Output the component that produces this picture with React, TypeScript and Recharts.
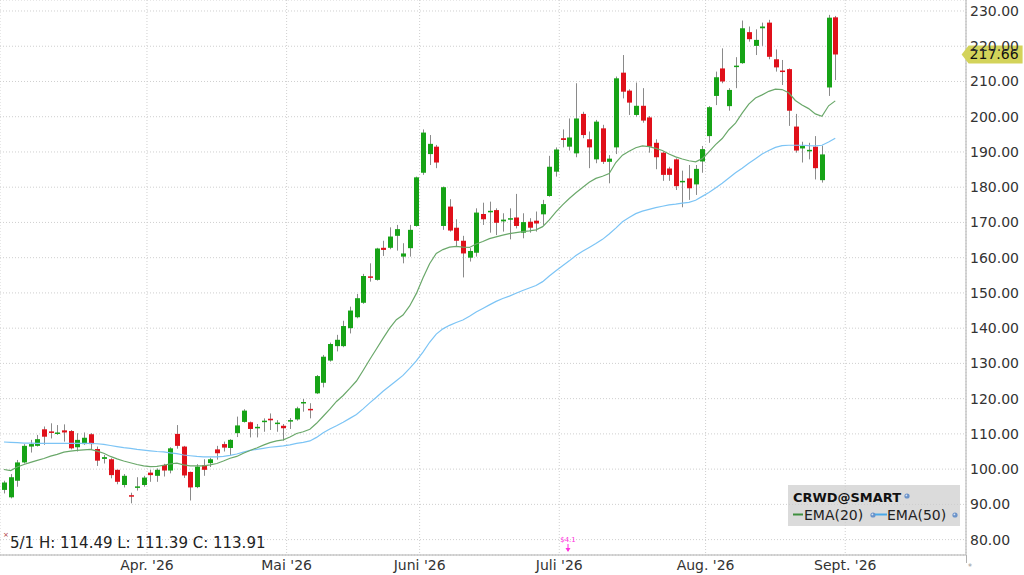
import React from 'react';
import { ComposedChart, Bar, Line, XAxis, YAxis, CartesianGrid, ReferenceDot } from 'recharts';

const opens = [94.1,92.0,96.7,101.9,106.4,106.6,111.3,110.7,110.1,111.0,110.8,106.2,107.1,109.9,105.7,102.9,102.8,99.8,95.5,92.6,94.7,95.5,99.0,98.1,101.2,99.6,110.0,106.4,99.2,94.9,101.1,101.7,105.6,107.1,106.0,110.2,113.4,113.3,111.6,113.4,114.3,112.8,112.3,113.5,114.1,118.7,117.1,121.5,124.5,130.8,134.9,134.9,140.0,143.1,147.2,154.7,153.7,162.8,162.8,166.2,160.3,162.7,169.0,184.1,189.4,191.5,169.0,174.5,168.5,164.8,160.0,161.4,172.4,173.0,173.5,170.3,170.9,171.4,167.1,170.2,170.5,172.3,177.5,184.4,193.9,191.5,189.6,200.8,193.6,187.9,196.7,187.2,191.3,212.5,207.4,200.5,203.1,199.8,192.6,189.8,185.3,187.9,181.4,182.5,180.8,187.3,194.5,205.9,213.7,203.0,214.2,215.2,224.0,220.1,225.1,226.7,216.3,213.1,213.5,197.2,191.0,190.3,191.5,182.0,208.3,228.2];
const highs = [96.7,98.6,102.6,107.1,108.3,109.7,112.1,113.0,112.5,112.7,111.1,110.2,110.4,110.2,106.4,104.0,103.1,99.9,98.6,93.3,97.7,98.1,99.8,100.2,101.5,106.2,112.5,106.6,99.3,101.4,102.8,103.2,106.6,107.8,108.5,114.9,117.0,113.5,112.8,114.4,115.8,113.9,112.8,114.49,117.7,119.9,118.7,126.7,132.4,135.9,138.1,142.1,146.1,149.7,155.4,158.4,162.8,164.8,168.6,169.3,164.1,169.3,183.0,196.4,194.8,192.0,180.2,176.6,170.9,166.2,162.7,174.0,175.6,175.9,174.0,172.6,174.0,178.1,172.6,171.2,173.1,176.4,188.9,191.3,196.4,199.5,209.5,201.4,195.8,199.1,197.7,189.1,211.4,217.5,207.8,209.7,208.1,200.2,193.6,190.1,185.8,188.2,184.7,186.3,186.3,191.7,203.0,212.8,219.4,208.1,216.9,227.3,225.6,224.8,226.7,227.5,219.1,216.1,213.7,200.8,192.9,192.6,194.5,191.8,228.9,228.6];
const lows = [93.1,91.7,95.0,101.6,104.7,106.4,106.9,108.7,109.7,107.8,105.6,105.0,106.9,105.4,100.9,101.6,97.4,95.7,94.8,90.3,93.9,95.0,96.4,96.4,97.9,98.8,105.8,97.5,91.1,94.6,98.1,100.6,102.7,105.0,104.0,109.1,113.2,109.0,109.0,110.6,111.1,110.6,108.1,111.39,113.75,116.3,114.4,121.3,123.2,130.5,133.4,134.6,138.5,142.8,146.9,153.2,153.5,160.5,162.4,162.0,158.4,160.3,168.8,183.5,186.3,185.4,167.9,167.4,163.1,154.4,158.9,160.3,169.3,167.1,166.4,167.4,165.2,168.3,165.5,167.1,167.4,169.3,177.3,183.0,191.3,190.4,188.5,193.9,185.4,186.8,186.6,181.1,189.4,205.2,200.5,200.0,198.3,189.8,185.1,181.8,181.8,179.2,174.3,176.4,177.8,184.1,192.6,203.3,209.5,201.7,208.1,215.0,221.3,217.5,220.1,216.3,212.8,209.0,197.4,189.8,187.0,187.9,182.2,181.3,205.9,210.4];
const closes = [96.2,97.7,101.9,106.6,107.1,108.5,109.2,110.3,110.4,110.4,105.9,108.3,108.9,107.1,102.4,103.4,98.3,96.4,98.1,92.4,95.1,97.6,98.3,99.8,99.6,105.9,106.6,98.2,94.8,100.7,99.8,102.8,104.5,106.1,108.3,112.4,116.6,111.4,112.0,113.75,113.85,113.2,111.6,113.91,117.25,119.05,116.7,126.4,131.9,135.5,136.7,140.6,145.0,148.5,154.8,154.4,162.6,162.2,166.0,168.1,161.2,167.9,182.8,195.5,192.3,187.0,180.0,167.7,164.8,161.2,161.9,172.8,170.9,173.3,169.9,170.8,171.2,169.0,170.1,168.5,169.7,175.2,185.8,190.7,193.4,194.1,199.5,194.8,191.3,198.6,187.2,188.1,210.9,207.1,204.0,203.1,198.9,191.5,188.5,183.5,183.5,180.3,181.8,179.7,185.2,190.8,202.7,211.2,210.0,207.6,214.5,225.1,222.0,221.8,225.6,217.0,214.0,212.7,201.7,190.4,191.7,190.6,185.4,189.3,228.1,217.66];
const ema20 = [99.9,99.6,100.6,101.3,101.9,102.5,103.0,103.7,104.2,104.8,105.1,105.3,105.45,105.6,105.1,104.5,103.6,102.9,102.3,101.8,101.3,100.9,100.7,100.8,101.1,101.5,101.7,101.2,100.9,100.9,100.9,101.2,101.6,102.3,103.1,103.6,104.5,105.3,106.0,106.8,107.5,108.0,108.3,109.1,110.1,110.6,111.3,113.0,115.0,117.0,119.2,120.9,122.9,125.0,128.0,131.1,134.1,137.1,140.0,142.4,143.7,146.3,149.8,154.2,158.3,161.2,162.3,163.0,163.2,163.0,162.9,163.9,164.6,165.4,165.9,166.4,166.8,167.1,167.4,167.6,167.9,168.8,170.7,173.0,175.0,176.8,178.4,179.9,181.4,182.5,183.1,183.9,187.0,189.1,190.2,191.2,191.7,191.5,191.0,190.4,189.4,188.6,188.0,187.5,187.2,188.1,190.0,192.1,193.8,196.3,198.2,201.0,203.6,205.3,206.2,207.2,207.8,207.7,206.8,204.6,203.3,202.3,200.8,200.1,203.1,204.5];
const ema50 = [107.7,107.6,107.5,107.4,107.35,107.3,107.3,107.3,107.3,107.3,107.3,107.3,107.3,107.3,107.2,107.0,106.7,106.4,106.1,105.9,105.6,105.4,105.2,105.0,104.9,104.6,104.4,104.0,103.8,103.6,103.5,103.5,103.5,103.6,103.9,104.3,104.8,105.3,105.6,105.9,106.2,106.4,106.6,106.9,107.3,107.6,108.0,109.0,110.3,111.4,112.3,113.3,114.4,115.5,117.1,118.8,120.4,122.1,123.6,125.1,126.6,128.6,130.7,133.2,136.0,138.3,139.8,140.8,141.6,142.3,143.4,144.6,145.6,146.6,147.6,148.4,149.1,149.9,150.7,151.4,152.1,153.2,154.8,156.3,157.7,159.1,160.6,161.8,162.9,164.0,165.2,166.7,168.4,170.2,171.4,172.5,173.2,173.7,174.2,174.6,175.0,175.2,175.5,175.7,176.3,177.4,178.5,179.8,181.1,182.6,184.1,185.4,186.8,188.1,189.4,190.4,191.3,191.8,191.9,191.9,191.9,191.8,191.75,191.9,192.8,193.9];

const monthTicks = [21.5, 42.5, 62.5, 83.5, 105.5, 126.5];
const monthLabels = ["Apr. '26", "Mai '26", "Juni '26", "Juli '26", "Aug. '26", "Sept. '26"];
const priceTicks = [80, 90, 100, 110, 120, 130, 140, 150, 160, 170, 180, 190, 200, 210, 220, 230];

const lastClose = closes[closes.length - 1];

const data = closes.map((c, i) => ({
  i,
  open: opens[i],
  high: highs[i],
  low: lows[i],
  close: c,
  range: [lows[i], highs[i]],
  ema20: ema20[i],
  ema50: ema50[i],
}));

const UP = '#16a316';
const DOWN = '#e0101a';

const Candle = (props: any) => {
  const { x, y, width, height, payload } = props;
  if (!payload) return null;
  const { open, close, high, low } = payload;
  const top = Math.min(y, y + height);
  const bottom = Math.max(y, y + height);
  const span = high - low || 1;
  const pix = (v: number) => top + ((high - v) / span) * (bottom - top);
  const cx = Math.round(x + width / 2) + 0.5;
  const yo = pix(open);
  const yc = pix(close);
  const bTop = Math.min(yo, yc);
  const bH = Math.max(1.5, Math.abs(yc - yo));
  const col = close >= open ? UP : DOWN;
  return (
    <g>
      <line x1={cx} x2={cx} y1={top} y2={bottom} stroke="#8a8a8a" strokeWidth={1} />
      <rect x={cx - 2.5} y={bTop} width={5} height={bH} fill={col} />
    </g>
  );
};

const PriceTag = (props: any) => {
  const { cx, cy } = props;
  const l = cx - 4;
  return (
    <g>
      <polygon
        points={`${l},${cy} ${l + 7},${cy - 9} ${l + 61},${cy - 9} ${l + 61},${cy + 9} ${l + 7},${cy + 9}`}
        fill="#d3d35a"
      />
      <text x={l + 8} y={cy + 5} fontSize={14} fill="#111">{lastClose.toFixed(2)}</text>
    </g>
  );
};

const Dot = ({ x, y }: { x: number; y: number }) => (
  <g>
    <circle cx={x} cy={y} r={2.6} fill="#6b93c9" />
    <circle cx={x - 0.6} cy={y - 0.6} r={0.9} fill="#d8e4f4" />
  </g>
);

export default function App() {
  return (
    <div style={{ position: 'fixed', left: 0, top: 0, width: 1024, height: 575, background: '#fff', fontFamily: '"DejaVu Sans", Verdana, sans-serif', overflow: 'hidden' }}>
      <ComposedChart width={1024} height={575} data={data} margin={{ top: 0, right: 0, bottom: 0, left: 0 }}>
        <CartesianGrid stroke="#cfcfcf" strokeDasharray="1 2" />
        <XAxis
          type="number"
          dataKey="i"
          domain={[-0.6, 144.66]}
          ticks={monthTicks}
          tickFormatter={(v: number) => monthLabels[monthTicks.indexOf(v)] ?? ''}
          height={20}
          tickLine={false}
          tickSize={0}
          tickMargin={5}
          axisLine={{ stroke: '#b0b0b0' }}
          tick={{ fill: '#333', fontSize: 14 }}
          interval={0}
          allowDataOverflow
        />
        <YAxis
          orientation="right"
          type="number"
          domain={[75.63, 233.12]}
          ticks={priceTicks}
          tickFormatter={(v: number) => v.toFixed(2)}
          width={58}
          tickLine={false}
          tickSize={0}
          tickMargin={4}
          axisLine={{ stroke: '#b0b0b0' }}
          tick={{ fill: '#333', fontSize: 14, textAnchor: 'start' }}
          interval={0}
          allowDataOverflow
        />
        <Line dataKey="ema50" stroke="#7cc4f5" strokeWidth={1.2} dot={false} isAnimationActive={false} />
        <Line dataKey="ema20" stroke="#6aa86a" strokeWidth={1.2} dot={false} isAnimationActive={false} />
        <Bar dataKey="range" barSize={5} shape={<Candle />} isAnimationActive={false} />
        <ReferenceDot x={144.6} y={lastClose} r={0} shape={<PriceTag />} ifOverflow="visible" />
      </ComposedChart>

      <div style={{ position: 'absolute', left: 10, top: 534, fontSize: 15, color: '#222', whiteSpace: 'nowrap' }}>
        5/1 H: 114.49 L: 111.39 C: 113.91
      </div>
      <div style={{ position: 'absolute', left: 3, top: 531, fontSize: 7, color: '#a33' }}>×</div>

      <svg style={{ position: 'absolute', left: 0, top: 0 }} width={1024} height={575}>
        <text x={568} y={542} fontSize={7} fill="#ff33dd" textAnchor="middle">$4.1</text>
        <line x1={568} x2={568} y1={544} y2={551} stroke="#ff33dd" strokeWidth={1} />
        <polygon points="565.5,548 570.5,548 568,552" fill="#ff33dd" />
        <line x1={966.5} x2={966.5} y1={555} y2={563} stroke="#b0b0b0" />
        <text x={968} y={570} fontSize={8} fill="#999">*</text>

        <rect x={788} y={485} width={172} height={41} fill="rgba(205,205,205,0.72)" />
        <text x={793} y={502} fontSize={13} fontWeight="bold" fill="#111" textLength={108} lengthAdjust="spacingAndGlyphs">CRWD@SMART</text>
        <Dot x={907} y={496} />
        <line x1={793} x2={803} y1={514.5} y2={514.5} stroke="#3f8f3f" strokeWidth={2} />
        <text x={804} y={520} fontSize={14} fill="#222">EMA(20)</text>
        <Dot x={873} y={515} />
        <line x1={875} x2={887} y1={514.5} y2={514.5} stroke="#4aa8e8" strokeWidth={2} />
        <text x={887} y={520} fontSize={14} fill="#222">EMA(50)</text>
        <Dot x={955} y={515} />
      </svg>
    </div>
  );
}
